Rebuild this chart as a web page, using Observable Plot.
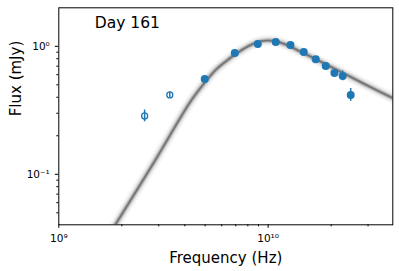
<!DOCTYPE html>
<html><head><meta charset="utf-8">
<script src="https://cdn.jsdelivr.net/npm/d3@7"></script>
<script src="https://cdn.jsdelivr.net/npm/@observablehq/plot@0.6"></script>
<style>body{margin:0;background:#fff} svg{display:block}</style>
</head><body><div id="chart"></div>
<script>
const titleText = "Day 161";
const xLabel = "Frequency (Hz)";
const yLabel = "Flux (mJy)";

const xMajorTicks = [1e9, 1e10];
const xMajorLabels = ["10⁹", "10¹⁰"];
const xMinorTicks = [2e9, 3e9, 4e9, 5e9, 6e9, 7e9, 8e9, 9e9, 2e10, 3e10];
const yMajorTicks = [0.1, 1];
const yMajorLabels = ["10⁻¹", "10⁰"];
const yMinorTicks = [0.05, 0.06, 0.07, 0.08, 0.09, 0.2, 0.3, 0.4, 0.5, 0.6, 0.7, 0.8, 0.9];

// Excluded (open) points
const openFreq = [2.57e9, 3.39e9];
const openFlux = [0.286, 0.417];
const openLo = [0.257, 0.398];
const openHi = [0.318, 0.437];

// Fitted (filled) points
const fitFreq = [4.98e9, 6.93e9, 8.92e9, 1.087e10, 1.278e10, 1.479e10, 1.688e10, 1.884e10, 2.073e10, 2.27e10, 2.48e10];
const fitFlux = [0.556, 0.888, 1.044, 1.082, 1.025, 0.904, 0.791, 0.703, 0.620, 0.587, 0.417];
const fitLo = [0.54, 0.865, 1.02, 1.055, 1.0, 0.88, 0.77, 0.685, 0.603, 0.538, 0.372];
const fitHi = [0.572, 0.91, 1.07, 1.11, 1.05, 0.928, 0.812, 0.722, 0.638, 0.642, 0.468];

// Model curve (read along the centre of the sample band)
const modelFreq = [1.73e9, 1.866e9, 2.843e9, 4.255e9, 5.019e9, 5.602e9, 6.255e9, 6.928e9, 8.054e9, 8.89e9, 9.707e9, 1.083e10, 1.145e10, 1.278e10, 1.427e10, 1.651e10, 1.984e10, 2.384e10, 2.861e10, 3.936e10];
const modelFlux = [0.033, 0.0405, 0.1234, 0.370, 0.529, 0.652, 0.759, 0.861, 1.004, 1.078, 1.108, 1.098, 1.069, 0.995, 0.909, 0.809, 0.694, 0.596, 0.511, 0.394];

const C0 = "#1f77b4";
const model = modelFreq.map((f, i) => ({f, s: modelFlux[i]}));
const open = openFreq.map((f, i) => ({f, s: openFlux[i], lo: openLo[i], hi: openHi[i]}));
const fit = fitFreq.map((f, i) => ({f, s: fitFlux[i], lo: fitLo[i], hi: fitHi[i]}));

const bandLayers = [
  {w: 11, o: 0.05},
  {w: 7, o: 0.1},
  {w: 4.5, o: 0.2},
  {w: 2.5, o: 0.35},
  {w: 1.2, o: 0.35}
];

const fmtX = d => xMajorLabels[xMajorTicks.indexOf(d)];
const fmtY = d => yMajorLabels[yMajorTicks.indexOf(d)];

const chart = Plot.plot({
  width: 399,
  height: 271,
  marginLeft: 58.3,
  marginRight: 6.7,
  marginTop: 7.3,
  marginBottom: 46.7,
  style: {fontFamily: "DejaVu Sans", background: "#fff", color: "#000", overflow: "visible"},
  x: {type: "log", domain: [1e9, 3.94e10], axis: null},
  y: {type: "log", domain: [0.0403, 2.0], axis: null},
  marks: [
    ...bandLayers.map(b => Plot.line(model, {x: "f", y: "s", stroke: "#3a3a3a", strokeWidth: b.w, strokeOpacity: b.o, curve: "catmull-rom", clip: true})),
    Plot.ruleX(open, {x: "f", y1: "lo", y2: "hi", stroke: C0, strokeWidth: 1.5}),
    Plot.dot(open, {x: "f", y: "s", r: 3, stroke: C0, strokeWidth: 1.3, fill: "none"}),
    Plot.ruleX(fit, {x: "f", y1: "lo", y2: "hi", stroke: C0, strokeWidth: 1.5}),
    Plot.dot(fit, {x: "f", y: "s", r: 4, fill: C0, stroke: "none"}),
    Plot.axisX(xMinorTicks, {anchor: "bottom", tickSize: 2, text: null, label: null, stroke: "#000"}),
    Plot.axisX(xMajorTicks, {anchor: "bottom", tickSize: 3.5, tickPadding: 6.5, tickFormat: fmtX, fontSize: 10.5, label: null, stroke: "#000"}),
    Plot.axisY(yMinorTicks, {anchor: "left", tickSize: 2, text: null, label: null, stroke: "#000"}),
    Plot.axisY(yMajorTicks, {anchor: "left", tickSize: 3.5, tickPadding: 5.5, tickFormat: fmtY, fontSize: 10.5, label: null, stroke: "#000"}),
    Plot.frame({stroke: "#000", strokeWidth: 1}),
    Plot.text([titleText], {frameAnchor: "top-left", dx: 36, dy: 9, lineAnchor: "top", textAnchor: "start", fontSize: 15.5, fill: "#000"}),
    Plot.text([xLabel], {frameAnchor: "bottom", dy: 33, lineAnchor: "middle", fontSize: 15, fill: "#000"}),
    Plot.text([yLabel], {frameAnchor: "left", dx: -42.6, rotate: -90, lineAnchor: "middle", fontSize: 15, fill: "#000"})
  ]
});
document.getElementById("chart").appendChild(chart);
</script>
</body></html>
